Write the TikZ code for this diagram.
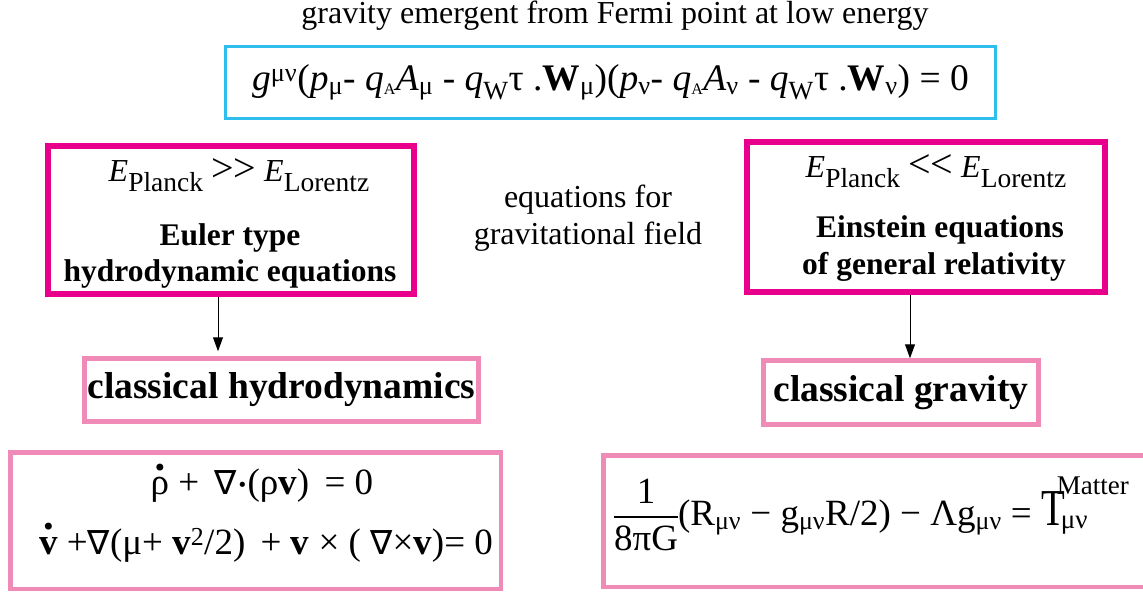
\documentclass[tikz,border=0pt]{standalone}
\usepackage{fontspec}
\setmainfont{Liberation Serif}
\newfontfamily\dvs{DejaVu Sans}
\usetikzlibrary{arrows.meta}
\definecolor{cyanb}{RGB}{45,190,238}
\definecolor{magb}{RGB}{232,0,140}
\definecolor{pinkb}{RGB}{240,138,182}
\newcommand\fsz[1]{\fontsize{#1}{#1}\selectfont}
\newcommand\lo[1]{\textsubscript{#1}}
\newcommand\hi[1]{\textsuperscript{#1}}
\newcommand\elo[1]{\raisebox{-0.3em}{\fsz{27.5}#1}}
\makeatletter
\newcommand\nab{{\dvs\fontsize{\dimexpr0.9\dimexpr\f@size pt\relax}{10}\selectfont ∇}}
\makeatother
\newcommand\sdot{\raisebox{0.1em}{\dvs\fsz{18}•}}
\newcommand\dotacc[1]{{\setbox0\hbox{#1}\hbox to \wd0{\hss\raisebox{0.5em}{\smash{\dvs\fsz{24}•}}\hss}\kern-\wd0\box0}}
\begin{document}
\begin{tikzpicture}[x=1pt,y=-1pt,
  cbox/.style={draw=cyanb,line width=3pt,inner sep=0pt},
  mbox/.style={draw=magb,line width=6pt,inner sep=0pt},
  pbox/.style={draw=pinkb,line width=4.5pt,inner sep=0pt},
  lbl/.style={inner sep=0pt,align=center},
  arr/.style={-{Triangle[length=14pt,width=10pt]},line width=1pt}]
\useasboundingbox (0,0) rectangle (1143,595);
% title
\node[lbl,font=\fsz{32}] (title) at (615,16) {gravity emergent from Fermi point at low energy};
% top equation
\node[cbox,minimum width=770pt,minimum height=72pt,font=\fsz{37.5}] (top) at (610.5,82.5)
 {\textit{g}\hi{μν}(\textit{p}\lo{μ}- \textit{q}\lo{\fsz{16}A}\textit{A}\lo{μ} - \textit{q}\lo{W}τ .\textbf{W}\lo{μ})(\textit{p}\lo{ν}- \textit{q}\lo{\fsz{16}A}\textit{A}\lo{ν} - \textit{q}\lo{W}τ .\textbf{W}\lo{ν}) = 0};
% left magenta box
\node[mbox,minimum width=366pt,minimum height=148pt] (lm) at (231,220) {};
\node[lbl,font=\fsz{32}] (lmE) at (239,175) {\textit{E}\elo{Planck}\hspace{8pt}{\fsz{40}>{}>}\hspace{8pt}\textit{E}\elo{Lorentz}};
\node[lbl,font=\fsz{31.5}\bfseries] (lmT) at (230,256) {Euler type\\[4.5pt]hydrodynamic equations};
% right magenta box
\node[mbox,minimum width=358pt,minimum height=150pt] (rm) at (926,217) {};
\node[lbl,font=\fsz{32}] (rmE) at (936,171) {\textit{E}\elo{Planck}\hspace{8pt}{\fsz{40}<{}<}\hspace{8pt}\textit{E}\elo{Lorentz}};
\node[lbl,font=\fsz{31.5}\bfseries] (rmT) at (934,248.5) {\hspace*{12pt}Einstein equations\\[5pt]of general relativity};
% middle text
\node[lbl,font=\fsz{32}] (mid) at (588,218) {equations for\\[5pt]gravitational field};
% classical boxes
\node[pbox,minimum width=394pt,minimum height=63pt,font=\fsz{37.5}\bfseries] (ch) at (281.5,390) {classical hydrodynamics};
\node[pbox,minimum width=275pt,minimum height=64pt,font=\fsz{37.5}\bfseries] (cg) at (901,392.5) {classical gravity};
% arrows
\draw[arr] ([xshift=-13pt]lm.south) -- ([xshift=-63.5pt,yshift=5pt]ch.north);
\draw[arr] ([xshift=-16pt]rm.south) -- ([xshift=9pt]cg.north);
% bottom boxes
\node[pbox,minimum width=490.5pt,minimum height=136.5pt] (bl) at (255.5,520.5) {};
\node[lbl,font=\fsz{37}] (bl1) at (262,486) {\dotacc{ρ} + \,\nab\sdot(ρ\textbf{v}) \,= 0};
\node[lbl,font=\fsz{37}] (bl2) at (266,545) {\dotacc{\textbf{v}} +\nab(μ+ \textbf{v}\hi{2}/2) \,+ \textbf{v} × ( \nab×\textbf{v})= 0};
\node[pbox,minimum width=564.5pt,minimum height=131.5pt] (br) at (885.5,521) {};
\node[lbl,font=\fsz{37},anchor=west] (breq) at (614,519)
 {{\arrayrulewidth=2pt\begin{tabular}{@{}c@{}}1\\[2pt]\hline\rule{0pt}{32pt}8πG\end{tabular}}(R\lo{μν} − g\lo{μν}R/2) − Λg\lo{μν} = \scalebox{1.05}[1.4]{T}\makebox[0pt][l]{\hspace{-8pt}\raisebox{31pt}{\fsz{27}Matter}}\hspace{-4pt}\raisebox{-3pt}{\fsz{27}μν}};
\end{tikzpicture}
\end{document}
